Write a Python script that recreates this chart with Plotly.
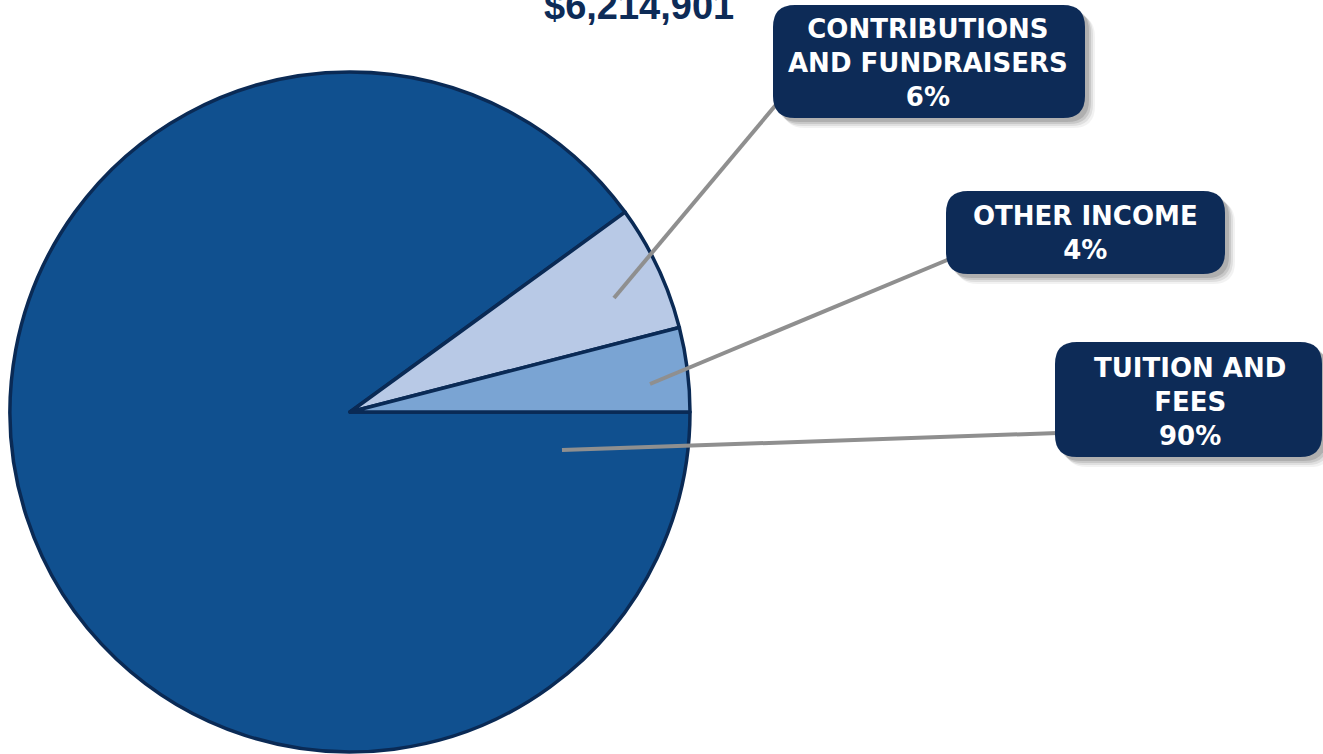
import plotly.graph_objects as go

# Data
labels = ["Tuition and Fees", "Contributions and Fundraisers", "Other Income"]
values = [90, 6, 4]
colors = ["#10508f", "#b8c9e6", "#7aa4d3"]
box_texts = ["CONTRIBUTIONS<br>AND FUNDRAISERS<br>6%", "OTHER INCOME<br>4%", "TUITION AND<br>FEES<br>90%"]
title_text = "$6,214,901"

W, H = 1323, 754
NAVY = "#0d2b57"


def fx(p):
    return p / W


def fy(p):
    return 1 - p / H


fig = go.Figure()
fig.add_trace(go.Pie(
    labels=labels, values=values, sort=False,
    direction="clockwise", rotation=90,
    marker=dict(colors=colors, line=dict(color="#0a2a55", width=3.5)),
    textinfo="none", hoverinfo="skip", showlegend=False,
    domain=dict(x=[fx(10), fx(690)], y=[fy(752), fy(72)]),
))

fig.add_trace(go.Scatter(x=[0, W], y=[0, H], mode="markers", marker=dict(opacity=0),
                         hoverinfo="skip", showlegend=False))


def rrect(x0, y0, x1, y1, r):
    return (f"M{x0+r},{y0} L{x1-r},{y0} Q{x1},{y0} {x1},{y0+r} L{x1},{y1-r} "
            f"Q{x1},{y1} {x1-r},{y1} L{x0+r},{y1} Q{x0},{y1} {x0},{y1-r} "
            f"L{x0},{y0+r} Q{x0},{y0} {x0+r},{y0} Z")


boxes = [(773, 5, 1085, 118), (946, 191, 1225, 274), (1055, 342, 1322, 457)]
leaders = [((614, 298), (780, 100)), ((650, 384), (952, 258)), ((562, 450), (1058, 433))]
text_pos = [(928, 63), (1085, 233), (1190, 402)]

shapes = []
for (a, b) in leaders:
    shapes.append(dict(type="line", xref="x", yref="y", x0=a[0], y0=a[1], x1=b[0], y1=b[1],
                       line=dict(color="#8f8f8f", width=4), layer="above"))
for (x0, y0, x1, y1) in boxes:
    for k, op in [(10, 0.05), (8, 0.08), (6, 0.10), (4, 0.12)]:
        shapes.append(dict(type="path", xref="x", yref="y",
                           path=rrect(x0 + k, y0 + k, x1 + k, y1 + k, 22),
                           fillcolor=f"rgba(0,0,0,{op})", line=dict(width=0), layer="above"))
    shapes.append(dict(type="path", xref="x", yref="y", path=rrect(x0, y0, x1, y1, 22),
                       fillcolor=NAVY, line=dict(width=0), layer="above"))

annotations = []
for t, (x, y) in zip(box_texts, text_pos):
    annotations.append(dict(x=x, y=y, xref="x", yref="y", text=f"<b>{t}</b>", showarrow=False,
                            font=dict(family="DejaVu Sans", size=26, color="white"),
                            xanchor="center", yanchor="middle", align="center"))
annotations.append(dict(x=fx(639), y=fy(6), xref="paper", yref="paper", text=f"<b>{title_text}</b>",
                        showarrow=False, font=dict(family="Liberation Sans", size=38, color=NAVY),
                        xanchor="center", yanchor="middle"))

fig.update_layout(
    width=W, height=H, margin=dict(l=0, r=0, t=0, b=0),
    paper_bgcolor="white", plot_bgcolor="rgba(0,0,0,0)",
    xaxis=dict(range=[0, W], visible=False, fixedrange=True),
    yaxis=dict(range=[H, 0], visible=False, fixedrange=True),
    shapes=shapes, annotations=annotations, showlegend=False,
)

fig.write_html("out.html", config={"displayModeBar": False},
               post_script="document.body.style.margin='0';document.body.style.overflow='hidden';")
